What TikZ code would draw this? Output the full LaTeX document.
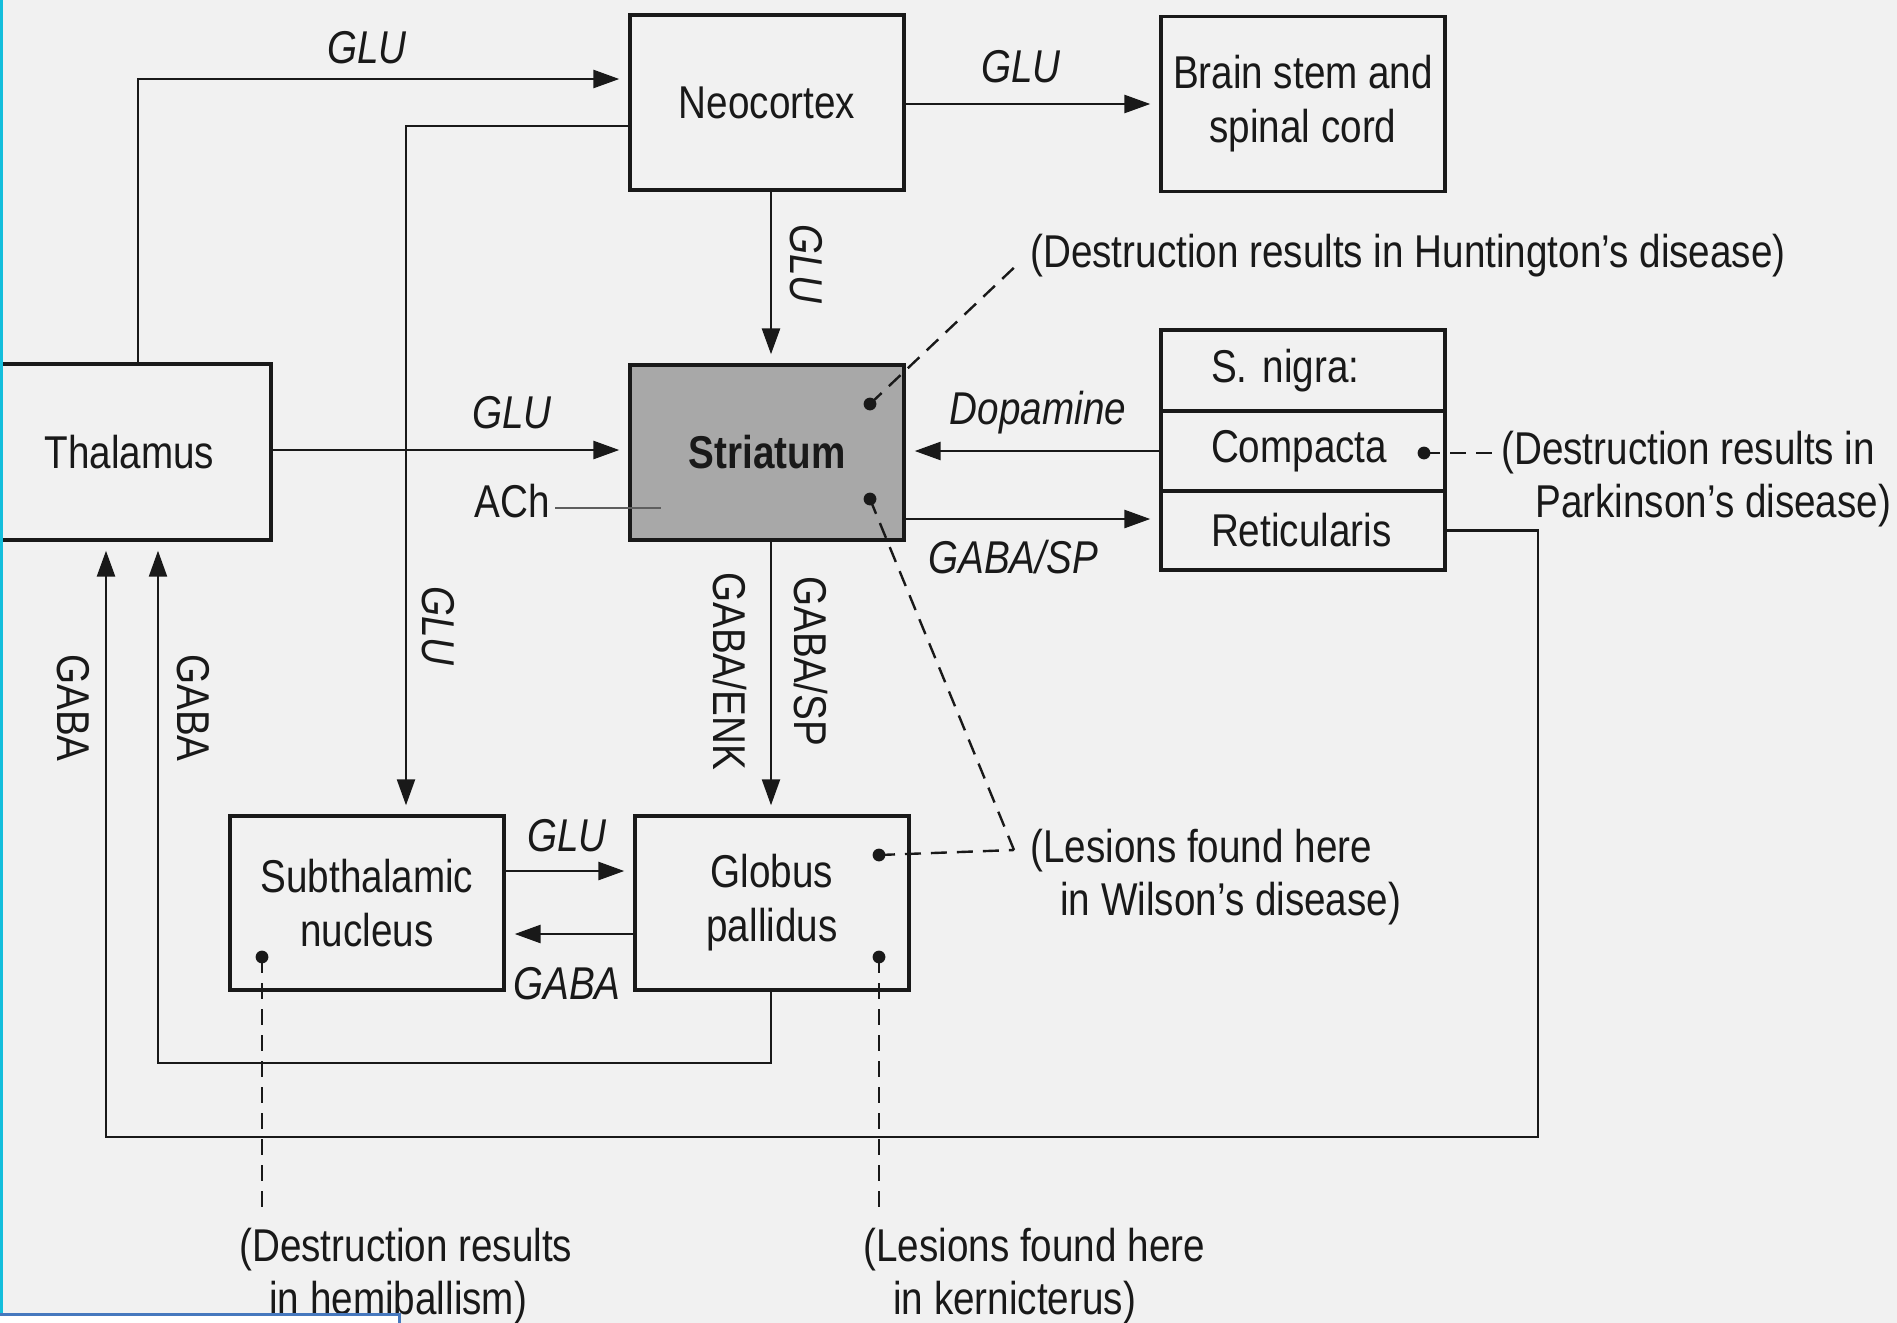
\documentclass[tikz,border=0pt]{standalone}
\usepackage{fontspec}
\setmainfont{Liberation Sans}[FakeStretch=0.84]
\usetikzlibrary{arrows.meta,calc}
\definecolor{bg}{RGB}{241,241,241}
\definecolor{ink}{RGB}{25,25,25}
\definecolor{strfill}{RGB}{168,168,168}
\definecolor{edgecyan}{RGB}{20,190,220}
\definecolor{barblue}{RGB}{70,120,190}
\newcommand\lblfont{\fontsize{23}{27}\selectfont}
\newcommand\notefont{\fontsize{23}{26.5}\selectfont}
\begin{document}
\begin{tikzpicture}[x=0.5pt,y=-0.5pt,
  box/.style={draw=ink,line width=1.7pt,fill=bg,inner sep=0pt,align=center,font=\lblfont,text=ink},
  sbox/.style={box,minimum width=142pt,text width=92pt,align=left},
  conn/.style={draw=ink,line width=1.35pt},
  arr/.style={conn,-{Triangle[length=13pt,width=9pt]},shorten >=4.5pt},
  lab/.style={inner sep=0pt,font=\lblfont\itshape,text=ink},
  ulab/.style={inner sep=0pt,font=\lblfont,text=ink},
  note/.style={inner sep=0pt,font=\notefont,text=ink,align=left},
  dsh/.style={draw=ink,line width=1.2pt,dash pattern=on 8pt off 5pt},
  dotmark/.style={fill=ink}]
\useasboundingbox (0,0) rectangle (1897,1323);
\fill[bg] (0,0) rectangle (1897,1323);
\clip (0,0) rectangle (1897,1323);

% boxes
\node[box,minimum width=137pt,minimum height=87.5pt] (neo) at (767,102.5) {Neocortex};
\node[box,minimum width=142pt,minimum height=87.5pt] (bs) at (1303,104) {Brain stem and\\spinal cord};
\node[box,minimum width=141.5pt,minimum height=88pt] (thal) at (129.5,452) {Thalamus};
\node[box,fill=strfill,minimum width=137pt,minimum height=87.5pt,font=\lblfont\bfseries] (str) at (767,452.5) {Striatum};
\node[sbox,minimum height=40.5pt] (sn) at (1303,370.5) {S. nigra:};
\node[sbox,minimum height=40pt] (comp) at (1303,451) {Compacta};
\node[sbox,minimum height=39.5pt] (ret) at (1303,530.5) {Reticularis};
\node[box,minimum width=137pt,minimum height=87pt] (stn) at (367,903) {Subthalamic\\nucleus};
\node[box,minimum width=137pt,minimum height=87pt] (gp) at (772,903) {Globus\\pallidus};

% helper coordinates
\coordinate (t1) at (138,79);
\coordinate (n1) at (406,126);
\coordinate (nb) at (0,104);
\coordinate (v1) at (771,0);
\coordinate (ts) at (0,450);
\coordinate (gs) at (0,519);
\coordinate (sg) at (0,871);
\coordinate (gsb) at (0,934);
\coordinate (iR) at (771,1063);
\coordinate (iL) at (158,1063);
\coordinate (oR) at (1538,1137);
\coordinate (oL) at (106,1137);
\coordinate (achA) at (555,508);
\coordinate (achB) at (661,508);

% connectors
\draw[arr] (thal.north -| t1) |- (neo.west |- t1);
\draw[arr,line width=1.15pt] (neo.west |- n1) -| (stn.north -| n1);
\draw[arr] (neo.east |- nb) -- (bs.west |- nb);
\draw[arr] (neo.south -| v1) -- (str.north -| v1);
\draw[arr] (thal.east |- ts) -- (str.west |- ts);
\draw[conn,draw=ink!70] (achA) -- (achB);
\draw[arr] (comp.west) -- (comp.west -| str.east);
\draw[arr] (str.east |- gs) -- (ret.west |- gs);
\draw[arr,line width=1.15pt] (str.south -| v1) -- (gp.north -| v1);
\draw[arr] (stn.east |- sg) -- (gp.west |- sg);
\draw[arr] (gp.west |- gsb) -- (stn.east |- gsb);
\draw[arr,line width=1.15pt] (gp.south -| iR) -- (iR) -- (iL) -- (iL |- thal.south);
\draw[arr] (ret.east) -| (oR) -- (oL) -- (oL |- thal.south);

% connector labels
\node[lab] (l1) at (367,48) {GLU};
\node[lab] (l2) at (1021,67) {GLU};
\node[lab,rotate=-90] (l3) at (806,264) {GLU};
\node[lab] (l4) at (512,413) {GLU};
\node[ulab] (l5) at (512,501) {ACh};
\node[lab] (l6) at (1038,413) {Dopamine};
\node[lab] (l7) at (1013,557) {GABA/SP};
\node[lab,rotate=-90] (l8) at (438,626) {GLU};
\node[ulab,rotate=-90] (l9) at (730,671) {GABA/ENK};
\node[ulab,rotate=-90] (l10) at (811,661) {GABA/SP};
\node[ulab,rotate=-90] (l11) at (73,708) {GABA};
\node[ulab,rotate=-90] (l12) at (193,708) {GABA};
\node[lab] (l13) at (567,836) {GLU};
\node[lab] (l14) at (567,984) {GABA};

% annotations
\coordinate (dh) at (870,404);
\coordinate (dw1) at (870,499);
\coordinate (dp) at (1424,453);
\coordinate (dw2) at (879,855);
\coordinate (dhb) at (262,957);
\coordinate (dk) at (879,957);
\coordinate (hEnd) at (1020,262);
\coordinate (wEnd) at (1014,850);

\node[note,anchor=west] (hunt) at (1030,256) {(Destruction results in Huntington's disease)};
\node[note,anchor=west] (park) at (1501,479.5) {(Destruction results in\\\hspace*{17pt}Parkinson's disease)};
\node[note,anchor=west] (wil) at (1030,877) {(Lesions found here\\\hspace*{15pt}in Wilson's disease)};
\node[note,anchor=west] (hemi) at (239,1276) {(Destruction results\\\hspace*{15pt}in hemiballism)};
\node[note,anchor=west] (kern) at (863,1276) {(Lesions found here\\\hspace*{15pt}in kernicterus)};

\draw[dsh] (dh) -- (hEnd);
\draw[dsh] (dp) -- ($(dp -| park.west)+(-6,0)$);
\draw[dsh] (dw2) -- (wEnd);
\draw[dsh] (dw1) -- (wEnd);
\draw[dsh] (dhb) -- (dhb |- 0,1216);
\draw[dsh] (dk) -- (dk |- 0,1216);

\foreach \d in {dh,dw1,dp,dw2,dhb,dk} \fill[dotmark] (\d) circle (3.2pt);

% frame artifacts
\draw[edgecyan,line width=1.5pt] (1,0) -- (1,1323);
\draw[barblue,line width=1.5pt,fill=white] (-5,1314) rectangle (399,1330);
\end{tikzpicture}
\end{document}
